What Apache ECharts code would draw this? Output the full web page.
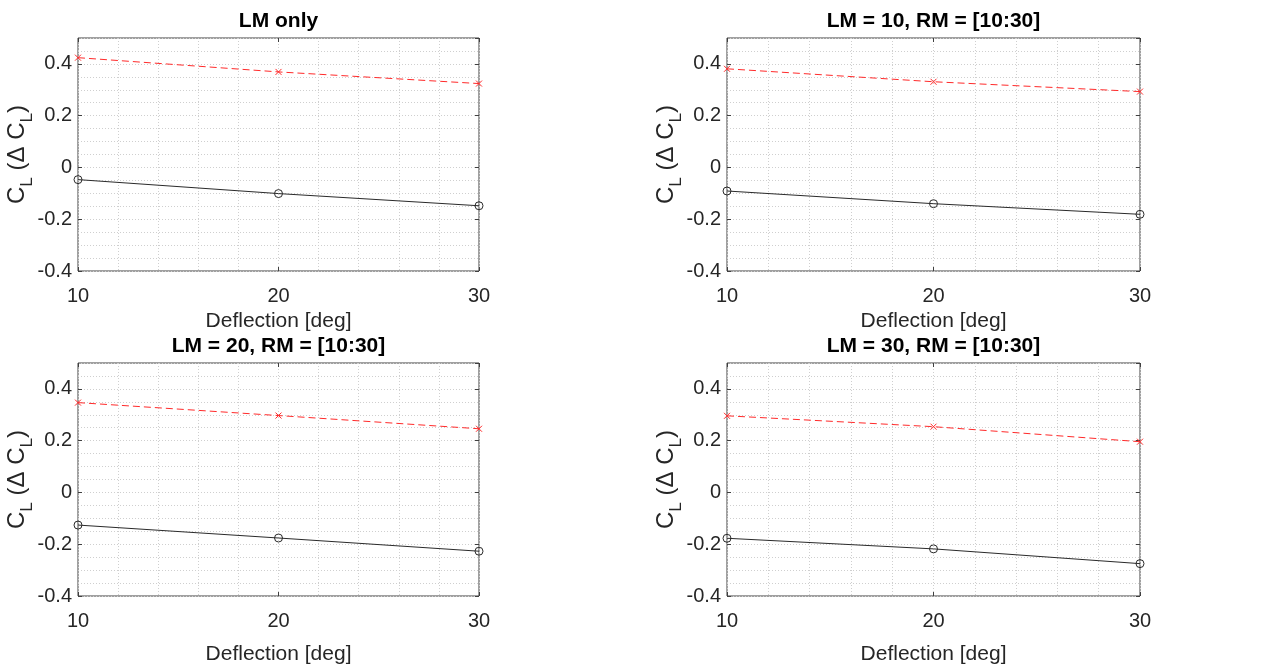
<!DOCTYPE html>
<html>
<head>
<meta charset="utf-8">
<script src="https://cdn.jsdelivr.net/npm/echarts@6/dist/echarts.min.js"></script>
<style>
  html, body { margin: 0; padding: 0; background: #fff; }
  #main { width: 1262px; height: 671px; }
</style>
</head>
<body>
<div id="main"></div>
<script>
// deflection angles [deg]
const deflection = [10, 20, 30];
const titles = ["LM only", "LM = 10, RM = [10:30]", "LM = 20, RM = [10:30]", "LM = 30, RM = [10:30]"];

// C_L (black, solid, circles)
const clLmOnly = [-0.047, -0.101, -0.148];
const clLm10 = [-0.091, -0.140, -0.181];
const clLm20 = [-0.126, -0.176, -0.227];
const clLm30 = [-0.177, -0.218, -0.275];

// delta C_L (red, dashed, crosses)
const dclLmOnly = [0.424, 0.369, 0.324];
const dclLm10 = [0.381, 0.331, 0.293];
const dclLm20 = [0.347, 0.297, 0.246];
const dclLm30 = [0.296, 0.254, 0.196];

const clSets = [clLmOnly, clLm10, clLm20, clLm30];
const dclSets = [dclLmOnly, dclLm10, dclLm20, dclLm30];

// panel boxes (plot area in px)
const panels = [
  { left: 78, top: 38, width: 401, height: 233, xGap: 40 },
  { left: 727, top: 38, width: 413, height: 233, xGap: 40 },
  { left: 78, top: 363, width: 401, height: 233, xGap: 48 },
  { left: 727, top: 363, width: 413, height: 233, xGap: 48 },
];

const FONT = "Liberation Sans, Arial, sans-serif";
const AX = "#404040";
const TXT = "#262626";
const GRIDC = "#cfcfcf";
const X_MIN = 10, X_MAX = 30, Y_MIN = -0.4, Y_MAX = 0.5;

const grid = [], xAxis = [], yAxis = [], series = [], graphic = [];
const pair = (arr) => arr.map((v, i) => [deflection[i], v]);

panels.forEach((p, k) => {
  grid.push({
    left: p.left, top: p.top, width: p.width, height: p.height,
    outerBoundsMode: "none", containLabel: false,
    show: true, borderColor: AX, borderWidth: 1, backgroundColor: "#fff",
  });
  const xi = xAxis.length;
  // bottom x axis with labels, minor grid every 2 deg
  xAxis.push({
    type: "value", gridIndex: k, min: X_MIN, max: X_MAX, interval: 10,
    position: "bottom",
    name: "Deflection [deg]", nameLocation: "middle", nameGap: p.xGap, nameMoveOverlap: false,
    nameTextStyle: { fontFamily: FONT, fontSize: 21, color: TXT },
    axisLine: { show: false, onZero: false },
    axisTick: { show: true, inside: true, length: 4, lineStyle: { color: AX } },
    axisLabel: { margin: 15, fontFamily: FONT, fontSize: 20, color: TXT },
    splitLine: { show: true, lineStyle: { color: GRIDC, type: [1, 2] } },
    minorTick: { show: false, splitNumber: 5 },
    minorSplitLine: { show: true, lineStyle: { color: GRIDC, type: [1, 2] } },
  });
  // top x axis: ticks only
  xAxis.push({
    type: "value", gridIndex: k, min: X_MIN, max: X_MAX, interval: 10,
    position: "top",
    axisLine: { show: false, onZero: false },
    axisTick: { show: true, inside: true, length: 4, lineStyle: { color: AX } },
    axisLabel: { show: false },
    splitLine: { show: false },
  });
  const yi = yAxis.length;
  // left y axis with labels
  yAxis.push({
    type: "value", gridIndex: k, min: Y_MIN, max: Y_MAX, interval: 0.2,
    position: "left",
    name: "{n|C}{s|L}{n| (Δ C}{s|L}{n|)}",
    nameLocation: "middle", nameGap: 42, nameMoveOverlap: false,
    nameTextStyle: {
      fontFamily: FONT, color: TXT,
      rich: {
        n: { fontFamily: FONT, fontSize: 24, color: TXT, verticalAlign: "top" },
        s: { fontFamily: FONT, fontSize: 17, color: TXT, verticalAlign: "top", padding: [14, 0, 0, 0] },
      },
    },
    axisLine: { show: false, onZero: false },
    axisTick: { show: true, inside: true, length: 4, lineStyle: { color: AX } },
    axisLabel: {
      margin: 6, fontFamily: FONT, fontSize: 20, color: TXT, showMaxLabel: false,
      formatter: (v) => (Math.abs(v) < 1e-9 ? "0" : String(+v.toFixed(1))),
    },
    splitLine: { show: false },
  });
  // right y axis: ticks only
  yAxis.push({
    type: "value", gridIndex: k, min: Y_MIN, max: Y_MAX, interval: 0.2,
    position: "right",
    axisLine: { show: false, onZero: false },
    axisTick: { show: true, inside: true, length: 4, lineStyle: { color: AX } },
    axisLabel: { show: false },
    splitLine: { show: false },
  });
  // grid-only y axis, dotted lines every 0.05
  yAxis.push({
    type: "value", gridIndex: k, min: Y_MIN, max: Y_MAX, interval: 0.05,
    position: "left",
    axisLine: { show: false, onZero: false }, axisTick: { show: false }, axisLabel: { show: false },
    splitLine: { show: true, lineStyle: { color: GRIDC, type: [1, 2] } },
  });

  series.push({
    type: "line", xAxisIndex: xi, yAxisIndex: yi,
    data: pair(dclSets[k]),
    lineStyle: { color: "#ff2a2a", width: 1, type: [7, 4] },
    symbol: "path://M0,0L10,10M10,0L0,10", symbolSize: 6,
    itemStyle: { color: "transparent", borderColor: "#ff2a2a", borderWidth: 1 },
    animation: false, z: 3,
  });
  series.push({
    type: "line", xAxisIndex: xi, yAxisIndex: yi,
    data: pair(clSets[k]),
    lineStyle: { color: "#2a2a2a", width: 1 },
    symbol: "circle", symbolSize: 8,
    itemStyle: { color: "transparent", borderColor: "#2a2a2a", borderWidth: 1 },
    animation: false, z: 3,
  });

  graphic.push({
    type: "text",
    x: p.left + p.width / 2,
    y: p.top - 17,
    style: {
      text: titles[k], fontFamily: FONT, fontSize: 21, fontWeight: "bold",
      fill: "#000", textAlign: "center", textVerticalAlign: "middle",
    },
  });
});

const chart = echarts.init(document.getElementById("main"));
chart.setOption({
  animation: false,
  backgroundColor: "#fff",
  grid, xAxis, yAxis, series, graphic,
});
</script>
</body>
</html>
